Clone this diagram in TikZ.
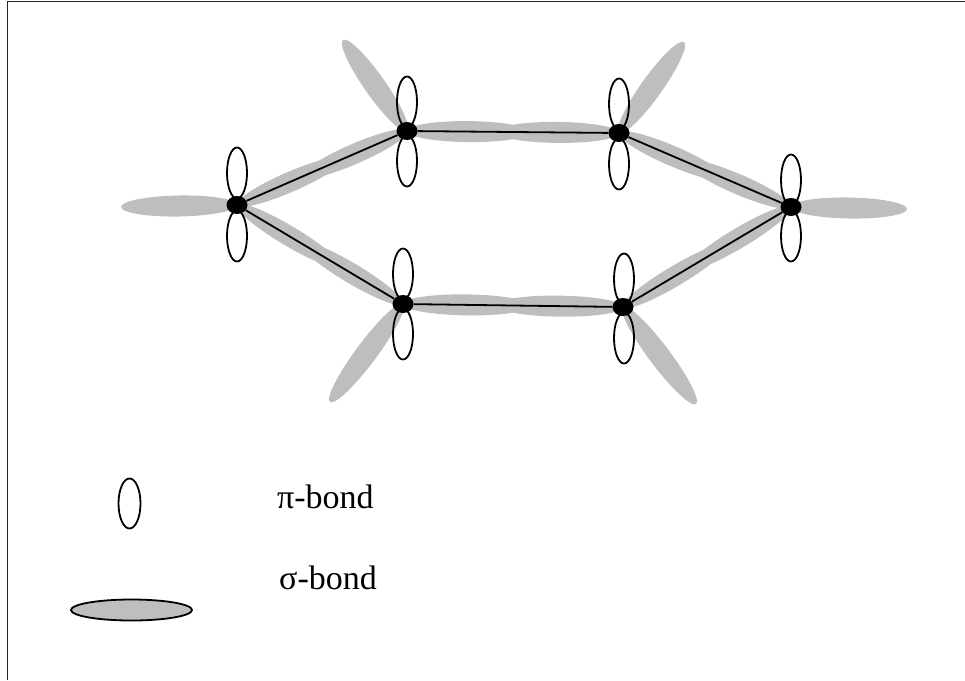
\documentclass[tikz,border=0pt]{standalone}
\usepackage{fontspec}
\setmainfont{Liberation Serif}
\usetikzlibrary{shapes.geometric,calc}
\definecolor{lobegray}{HTML}{BEBEBE}
\tikzset{
  x=1pt,y=-1pt,
  atom/.style={ellipse,fill=black,inner sep=0pt,minimum width=21pt,minimum height=18pt},
  lobeshape/.style={ellipse,inner sep=0pt,minimum height=#1},
  sigmalobe/.style={lobeshape=#1,fill=lobegray,draw=none},
  pilobe/.style={ellipse,inner sep=0pt,draw=black,line width=1.8pt,fill=none,minimum width=20pt,minimum height=51pt},
  bondline/.style={draw=black,line width=1.8pt},
  legendtext/.style={anchor=west,font=\fontsize{34}{36}\selectfont,inner sep=0pt,text=black},
}
% grey lobe whose long axis runs between two named points
\newcommand{\sigmabetween}[4]{%
  \path let \p1=($(#2)-(#1)$), \n1={atan2(\y1,\x1)}, \n2={veclen(\x1,\y1)} in
    node[sigmalobe=#3pt,minimum width=\n2,rotate=\n1] (#4) at ($(#1)!.5!(#2)$) {};
}
\begin{document}
\begin{tikzpicture}
\useasboundingbox (0,0) rectangle (965,680);
\draw[black!85,line width=1.6pt] (7.5,680) -- (7.5,1.5) -- (965,1.5);
% atom positions
\coordinate (pA) at (237,205);
\coordinate (pB) at (407,131);
\coordinate (pC) at (619,133);
\coordinate (pD) at (791,207);
\coordinate (pE) at (623,307);
\coordinate (pF) at (403,304);
% free ends of outer sigma lobes
\coordinate (tA) at (121,207);
\coordinate (tB) at (343,40);
\coordinate (tC) at (684,42);
\coordinate (tD) at (907,209);
\coordinate (tE) at (696,404);
\coordinate (tF) at (330,402);
% outer sigma lobes
\sigmabetween{pA}{tA}{21}{sA}
\sigmabetween{pB}{tB}{21}{sB}
\sigmabetween{pC}{tC}{21}{sC}
\sigmabetween{pD}{tD}{21}{sD}
\sigmabetween{pE}{tE}{21}{sE}
\sigmabetween{pF}{tF}{21}{sF}
% bond sigma lobes: each runs a little past the bond's middle, so the pair overlaps
\sigmabetween{pA}{$(pA)!.62!(pB)$}{20}{sAB1}
\sigmabetween{pB}{$(pB)!.62!(pA)$}{20}{sAB2}
\sigmabetween{pB}{$(pB)!.58!(pC)$}{21}{sBC1}
\sigmabetween{pC}{$(pC)!.58!(pB)$}{21}{sBC2}
\sigmabetween{pC}{$(pC)!.62!(pD)$}{20}{sCD1}
\sigmabetween{pD}{$(pD)!.62!(pC)$}{20}{sCD2}
\sigmabetween{pD}{$(pD)!.62!(pE)$}{20}{sDE1}
\sigmabetween{pE}{$(pE)!.62!(pD)$}{20}{sDE2}
\sigmabetween{pE}{$(pE)!.58!(pF)$}{21}{sEF1}
\sigmabetween{pF}{$(pF)!.58!(pE)$}{21}{sEF2}
\sigmabetween{pF}{$(pF)!.62!(pA)$}{20}{sFA1}
\sigmabetween{pA}{$(pA)!.62!(pF)$}{20}{sFA2}
% pi lobes
\node[pilobe] (piAu) at ($(pA)+(0,-32)$) {};
\node[pilobe] (piAd) at ($(pA)+(0,31)$) {};
\node[pilobe] (piBu) at ($(pB)+(0,-29)$) {};
\node[pilobe] (piBd) at ($(pB)+(0,30)$) {};
\node[pilobe] (piCu) at ($(pC)+(0,-29)$) {};
\node[pilobe] (piCd) at ($(pC)+(0,31)$) {};
\node[pilobe] (piDu) at ($(pD)+(0,-27)$) {};
\node[pilobe] (piDd) at ($(pD)+(0,29)$) {};
\node[pilobe] (piEu) at ($(pE)+(1,-28)$) {};
\node[pilobe] (piEd) at ($(pE)+(1,31)$) {};
\node[pilobe] (piFu) at ($(pF)+(0,-30)$) {};
\node[pilobe] (piFd) at ($(pF)+(0,30)$) {};
% atoms
\node[atom] (A) at (pA) {};
\node[atom] (B) at (pB) {};
\node[atom] (C) at (pC) {};
\node[atom] (D) at (pD) {};
\node[atom] (E) at (pE) {};
\node[atom] (F) at (pF) {};
% bonds
\draw[bondline] (A) -- (B);
\draw[bondline] (B) -- (C);
\draw[bondline] (C) -- (D);
\draw[bondline] (D) -- (E);
\draw[bondline] (E) -- (F);
\draw[bondline] (F) -- (A);
% legend
\node[pilobe,minimum width=22pt,minimum height=50pt] (legPi) at (129.5,503.5) {};
\node[ellipse,inner sep=0pt,draw=black,line width=1.8pt,fill=lobegray,minimum width=121pt,minimum height=21pt] (legSigma) at (131.5,610) {};
\node[legendtext] (tPi) at (277,497) {π-bond};
\node[legendtext] (tSigma) at (279,578) {σ-bond};
\end{tikzpicture}
\end{document}
